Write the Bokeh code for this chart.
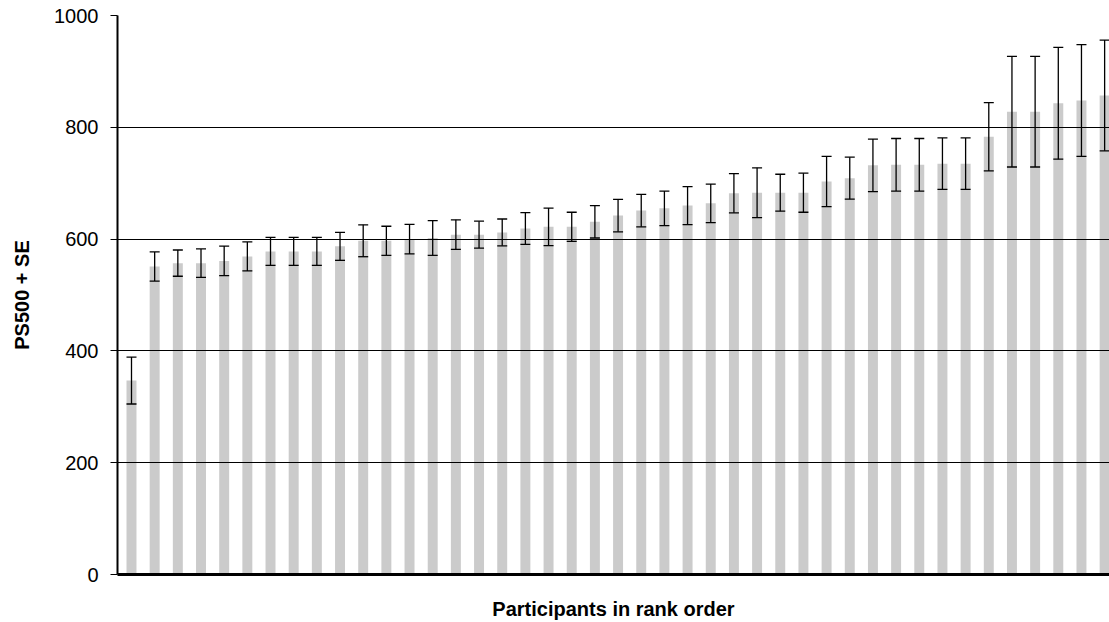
from bokeh.plotting import figure
from bokeh.models import ColumnDataSource, Whisker, TeeHead, FixedTicker, Range1d
from bokeh.embed import file_html
from bokeh.resources import INLINE

# Participants in rank order (1..43)
ranks = list(range(1, 44))
ps500 = [347, 551, 557, 557, 561, 569, 578, 578, 578, 587,
         597, 597, 600, 602, 608, 608, 612, 619, 622, 622,
         631, 642, 651, 655, 660, 664, 682, 683, 683, 683,
         703, 709, 732, 733, 733, 735, 735, 783, 828, 828,
         843, 848, 857]
se = [42, 26, 23.5, 25.5, 26.5, 26, 25, 25, 25, 25,
      28.5, 26, 26.5, 31, 26.5, 24, 24, 28.5, 33.5, 26,
      29, 29, 29, 31, 34, 34.5, 35, 44.5, 33, 35,
      45, 37.5, 47, 47, 47, 46, 46, 61, 99, 99,
      100, 100, 99]
y_ticks = [0, 200, 400, 600, 800, 1000]

src = ColumnDataSource(dict(
    x=ranks, top=ps500,
    upper=[m + s for m, s in zip(ps500, se)],
    lower=[m - s for m, s in zip(ps500, se)],
))

p = figure(width=1109, height=622, output_backend="svg", toolbar_location=None,
           x_range=Range1d(0.396, 43.21), y_range=Range1d(0, 1000),
           min_border_left=117, min_border_right=0, min_border_top=15,
           min_border_bottom=48)
p.outline_line_color = None
p.background_fill_color = "white"
p.border_fill_color = "white"

p.vbar(x="x", top="top", width=0.43, bottom=0, source=src,
       fill_color="#cbcbcb", line_color=None)

w = Whisker(base="x", upper="upper", lower="lower", source=src,
            line_color="black", line_width=1.3, level="overlay",
            upper_head=TeeHead(size=10, line_color="black", line_width=1.3),
            lower_head=TeeHead(size=10, line_color="black", line_width=1.3))
p.add_layout(w)

# grid
p.xgrid.grid_line_color = None
p.ygrid.grid_line_color = "black"
p.ygrid.grid_line_width = 1
p.ygrid.level = "overlay"

# y axis
p.yaxis.ticker = FixedTicker(ticks=y_ticks)
p.yaxis.axis_line_width = 2
p.yaxis.axis_line_color = "black"
p.yaxis.major_tick_out = 7
p.yaxis.major_tick_in = 0
p.yaxis.major_tick_line_color = "black"
p.yaxis.minor_tick_line_color = None
p.yaxis.major_label_standoff = 12
p.yaxis.major_label_text_font = "Liberation Sans"
p.yaxis.major_label_text_font_size = "20px"
p.yaxis.major_label_text_color = "black"
p.yaxis.axis_label = "PS500 + SE"
p.yaxis.axis_label_text_font = "Liberation Sans"
p.yaxis.axis_label_text_font_style = "bold"
p.yaxis.axis_label_text_font_size = "20px"
p.yaxis.axis_label_text_color = "black"
p.yaxis.axis_label_standoff = 18

# x axis
p.xaxis.ticker = FixedTicker(ticks=[])
p.xaxis.axis_line_width = 3
p.xaxis.axis_line_color = "black"
p.xaxis.major_tick_line_color = None
p.xaxis.minor_tick_line_color = None
p.xaxis.major_label_text_font_size = "0px"
p.xaxis.axis_label = "Participants in rank order"
p.xaxis.axis_label_text_font = "Liberation Sans"
p.xaxis.axis_label_text_font_style = "bold"
p.xaxis.axis_label_text_font_size = "20px"
p.xaxis.axis_label_text_color = "black"
p.xaxis.axis_label_standoff = 23

open("out.html", "w").write(file_html(p, INLINE))
